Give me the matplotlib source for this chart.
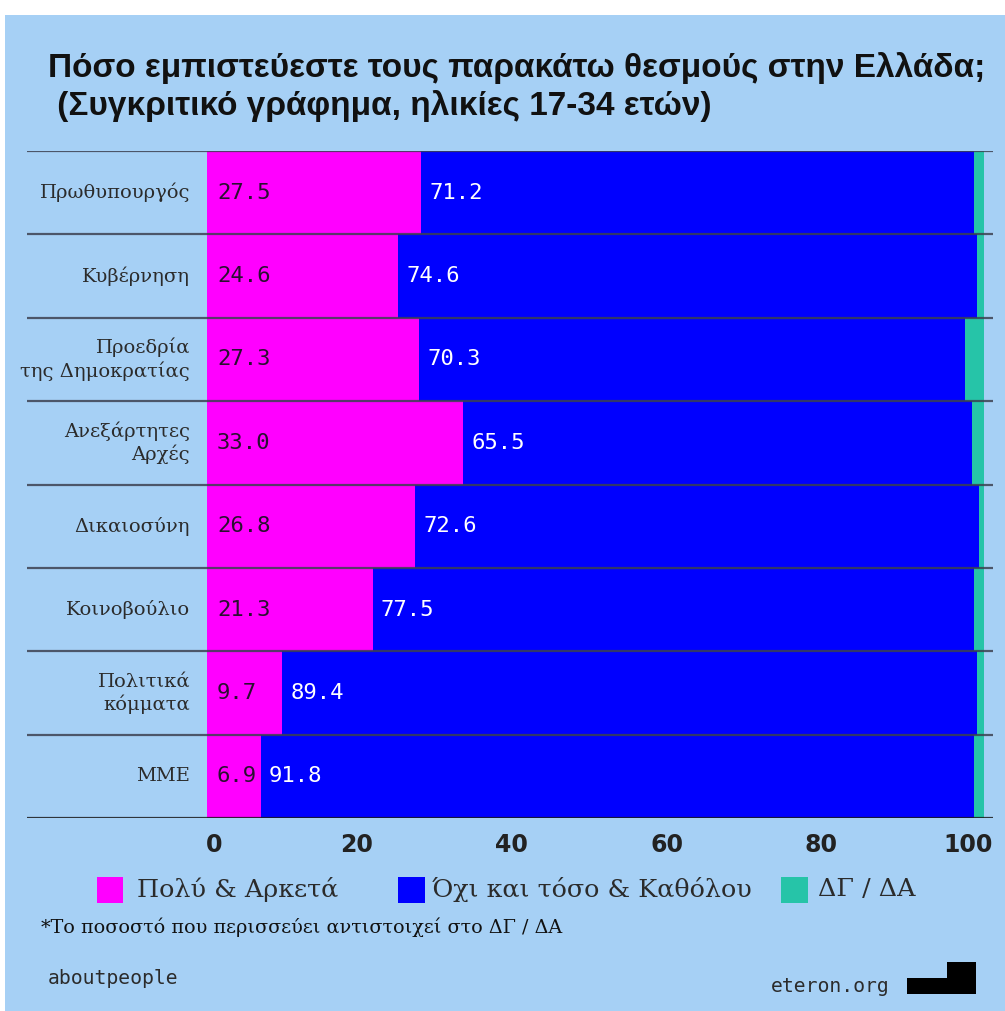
import matplotlib
matplotlib.use("Agg")
import matplotlib.pyplot as plt
import numpy as np
from matplotlib.patches import Rectangle, Polygon
from matplotlib.transforms import ScaledTranslation

# ---- data ----
categories = ["Πρωθυπουργός", "Κυβέρνηση", "Προεδρία\nτης Δημοκρατίας",
              "Ανεξάρτητες\nΑρχές", "Δικαιοσύνη", "Κοινοβούλιο",
              "Πολιτικά\nκόμματα", "ΜΜΕ"]
trust = [27.5, 24.6, 27.3, 33.0, 26.8, 21.3, 9.7, 6.9]
distrust = [71.2, 74.6, 70.3, 65.5, 72.6, 77.5, 89.4, 91.8]
dkna = [1.3, 0.8, 2.4, 1.5, 0.6, 1.2, 0.9, 1.3]
xticks = [0, 20, 40, 60, 80, 100]
legend_labels = ["Πολύ & Αρκετά", "Όχι και τόσο & Καθόλου", "ΔΓ / ΔΑ"]
title_lines = ["Πόσο εμπιστεύεστε τους παρακάτω θεσμούς στην Ελλάδα;",
               " (Συγκριτικό γράφημα, ηλικίες 17-34 ετών)"]
footnote = "*Το ποσοστό που περισσεύει αντιστοιχεί στο ΔΓ / ΔΑ"

BG = "#a6d0f5"
PINK = "#ff00ff"
BLUE = "#0000ff"
TEAL = "#26c4a8"
colors = [PINK, BLUE, TEAL]

W, H = 1005, 1011
fig = plt.figure(figsize=(W / 100, H / 100), dpi=100, facecolor="white")


def fx(x):
    return x / W


def fy(y):
    return 1 - y / H


fig.add_artist(Rectangle((fx(5), 0), 1 - fx(5), fy(15), transform=fig.transFigure,
                         facecolor=BG, edgecolor="none", zorder=-10))

# title
fig.text(fx(48), fy(68), title_lines[0], fontfamily="Liberation Sans", fontweight="bold",
         fontsize=24, color="#111111", ha="left", va="center")
fig.text(fx(48), fy(106), title_lines[1], fontfamily="Liberation Sans", fontweight="bold",
         fontsize=24, color="#111111", ha="left", va="center")

ax = fig.add_axes([fx(27), fy(818), fx(993) - fx(27), (818 - 151) / H])
ax.patch.set_visible(False)
y = np.arange(len(categories))
left2 = [a for a in trust]
left3 = [a + b for a, b in zip(trust, distrust)]
ax.barh(y, trust, height=1.0, color=PINK, linewidth=0, zorder=2)
ax.barh(y, distrust, left=left2, height=1.0, color=BLUE, linewidth=0, zorder=2)
ax.barh(y, dkna, left=left3, height=1.0, color=TEAL, linewidth=0, zorder=2)
ax.set_xlim(-23.2, 101.2)
ax.set_ylim(len(categories) - 0.5, -0.5)

for k, b in enumerate(np.arange(-0.5, len(categories) + 0.5, 1.0)):
    ax.axhline(b, color="#1a1a1a" if k == len(categories) else "#3c4150",
               lw=1.6, zorder=5, alpha=0.85)

for i, cat in enumerate(categories):
    ax.text(-2.2, i, cat, ha="right", va="center", multialignment="right",
            fontfamily="DejaVu Serif", fontsize=14, color="#2b2b2b", linespacing=1.25)
    ax.annotate(f"{trust[i]:.1f}", xy=(0, i), xytext=(7, 0), textcoords="offset points",
                ha="left", va="center", fontfamily="DejaVu Sans Mono", fontsize=16,
                color="#2a1030", zorder=6)
    ax.annotate(f"{distrust[i]:.1f}", xy=(trust[i], i), xytext=(6, 0), textcoords="offset points",
                ha="left", va="center", fontfamily="DejaVu Sans Mono", fontsize=16,
                color="white", zorder=6)

ax.set_xticks(xticks)
ax.set_xticklabels([str(t) for t in xticks], fontfamily="DejaVu Sans", fontweight="bold",
                   fontsize=17, color="#222222")
ax.tick_params(axis="x", length=0, pad=11)
tick_shift_px = [7, -6, -6, -6, -7, -16]
for lab, dx in zip(ax.get_xticklabels(), tick_shift_px):
    lab.set_transform(lab.get_transform() + ScaledTranslation(dx / 100, 0, fig.dpi_scale_trans))
ax.set_yticks([])
for s in ax.spines.values():
    s.set_visible(False)

# legend
sq = [(97, 123), (398, 425), (781, 808)]
tx = [137, 432, 818]
for (x0, x1), t, c, lab in zip(sq, tx, colors, legend_labels):
    fig.add_artist(Rectangle((fx(x0), fy(903)), fx(x1) - fx(x0), (903 - 877) / H,
                             transform=fig.transFigure, facecolor=c, edgecolor="none"))
    fig.text(fx(t), fy(890), lab, fontfamily="DejaVu Serif", fontsize=18.3,
             color="#2b2b2b", ha="left", va="center")

fig.text(fx(41), fy(927), footnote, fontfamily="DejaVu Serif", fontsize=13.8,
         color="#111111", ha="left", va="center")

fig.text(fx(48), fy(979), "aboutpeople", fontfamily="DejaVu Sans Mono", fontsize=14.2,
         color="#2b2b2b", ha="left", va="center")
fig.text(fx(771), fy(986), "eteron.org", fontfamily="DejaVu Sans Mono", fontsize=14.2,
         color="#2b2b2b", ha="left", va="center")
logo = [(907, 994), (907, 978), (947, 978), (947, 962), (976, 962), (976, 994)]
fig.add_artist(Polygon([(fx(a), fy(b)) for a, b in logo], closed=True,
                       transform=fig.transFigure, facecolor="black", edgecolor="none"))

fig.savefig("out.png", dpi=100, facecolor="white")
